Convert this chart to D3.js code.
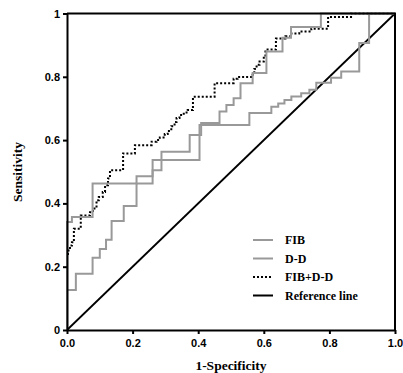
<!DOCTYPE html>
<html>
<head>
<meta charset="utf-8">
<script src="https://cdn.jsdelivr.net/npm/d3@7"></script>
<style>
  body { margin: 0; background: #fff; }
  svg { display: block; font-family: 'Liberation Serif', 'Times New Roman', serif; font-weight: bold; }
  .axis path, .axis line { stroke: #000; stroke-width: 2; }
  .axis text { font-size: 11px; font-weight: bold; fill: #000; }
</style>
</head>
<body>
<svg></svg>
<script>
const SVG_MEASURES = {
  width: 403,
  height: 373,
  left: 67,
  right: 395,
  top: 13.5,
  bottom: 330
}

// ROC points: start of each horizontal run (fpr, tpr)
const FIB_FPR = [0, 0, 0.015, 0.078, 0.212, 0.261, 0.404, 0.556, 0.623, 0.644, 0.663, 0.684, 0.714, 0.739, 0.760, 0.805, 0.836, 0.891, 0.921, 1]
const FIB_TPR = [0, 0.341, 0.357, 0.463, 0.486, 0.537, 0.648, 0.686, 0.705, 0.716, 0.727, 0.738, 0.748, 0.759, 0.781, 0.797, 0.817, 0.907, 1, 1]

const DD_FPR = [0, 0, 0.027, 0.078, 0.100, 0.119, 0.136, 0.173, 0.212, 0.261, 0.288, 0.374, 0.409, 0.465, 0.486, 0.508, 0.529, 0.566, 0.608, 0.657, 0.683, 0.774, 1]
const DD_TPR = [0, 0.126, 0.178, 0.228, 0.256, 0.285, 0.344, 0.392, 0.463, 0.505, 0.563, 0.616, 0.654, 0.690, 0.711, 0.732, 0.780, 0.812, 0.880, 0.923, 0.957, 1, 1]

const COMB_FPR = [0, 0, 0.003, 0.009, 0.015, 0.021, 0.042, 0.070, 0.079, 0.090, 0.097, 0.109, 0.116, 0.125, 0.131, 0.171, 0.207, 0.258, 0.273, 0.283,
  0.298, 0.307, 0.318, 0.328, 0.334, 0.343, 0.356, 0.368, 0.384, 0.450, 0.508, 0.520, 0.566, 0.571, 0.578, 0.587, 0.600, 0.605, 0.637, 0.666,
  0.684, 0.708, 0.745, 0.796, 0.866, 1]
const COMB_TPR = [0, 0.232, 0.251, 0.267, 0.277, 0.320, 0.362, 0.372, 0.384, 0.410, 0.420, 0.436, 0.457, 0.479, 0.505, 0.558, 0.584, 0.595, 0.600, 0.608,
  0.619, 0.629, 0.644, 0.657, 0.670, 0.679, 0.687, 0.695, 0.737, 0.780, 0.794, 0.799, 0.813, 0.825, 0.838, 0.848, 0.864, 0.886, 0.921, 0.928,
  0.937, 0.943, 0.952, 0.989, 1, 1]

const REF_FPR = [0, 1]
const REF_TPR = [0, 1]

const X_TICKS = [0, 0.2, 0.4, 0.6, 0.8, 1.0]
const Y_TICKS = [0, 0.2, 0.4, 0.6, 0.8, 1]
const LEGEND_LABELS = ['FIB', 'D-D', 'FIB+D-D', 'Reference line']

const SERIES = [
  { name: 'FIB', fpr: FIB_FPR, tpr: FIB_TPR, color: '#999999', dash: null, step: true },
  { name: 'D-D', fpr: DD_FPR, tpr: DD_TPR, color: '#999999', dash: null, step: true },
  { name: 'FIB+D-D', fpr: COMB_FPR, tpr: COMB_TPR, color: '#000000', dash: '2,2', step: true },
  { name: 'Reference line', fpr: REF_FPR, tpr: REF_TPR, color: '#000000', dash: null, step: false }
]

const canvas = d3.select('svg')
  .attr('width', SVG_MEASURES.width)
  .attr('height', SVG_MEASURES.height)

const xScale = d3.scaleLinear().domain([0, 1]).range([SVG_MEASURES.left, SVG_MEASURES.right])
const yScale = d3.scaleLinear().domain([0, 1]).range([SVG_MEASURES.bottom, SVG_MEASURES.top])

function toPoints(s) {
  return s.fpr.map((f, i) => [f, s.tpr[i]])
}

// curves, reference first so it sits underneath
const curves = canvas.append('g').attr('id', 'curves')
SERIES.slice().reverse().forEach(s => {
  const line = d3.line()
    .x(d => xScale(d[0]))
    .y(d => yScale(d[1]))
    .curve(s.step ? d3.curveStepAfter : d3.curveLinear)

  curves.append('path')
    .datum(toPoints(s))
    .attr('d', line)
    .attr('fill', 'none')
    .attr('stroke', s.color)
    .attr('stroke-width', s.dash ? 2 : (s.step ? 2 : 1.8))
    .attr('stroke-dasharray', s.dash)
})

// frame: top and right edges
canvas.append('path')
  .attr('d', d3.line()([[xScale(0), yScale(1)], [xScale(1), yScale(1)], [xScale(1), yScale(0)]]))
  .attr('fill', 'none')
  .attr('stroke', '#000')
  .attr('stroke-width', 2)

const xAxis = d3.axisBottom(xScale)
  .tickValues(X_TICKS)
  .tickFormat(d3.format('.1f'))
  .tickSize(4)
  .tickSizeOuter(0)
  .tickPadding(5)

canvas.append('g')
  .attr('class', 'axis')
  .attr('transform', `translate(0, ${SVG_MEASURES.bottom})`)
  .call(xAxis)

const yAxis = d3.axisLeft(yScale)
  .tickValues(Y_TICKS)
  .tickFormat(d => d3.format('~g')(d))
  .tickSize(4)
  .tickSizeOuter(0)
  .tickPadding(3)

canvas.append('g')
  .attr('class', 'axis')
  .attr('transform', `translate(${SVG_MEASURES.left}, 0)`)
  .call(yAxis)

// axis titles
canvas.append('text')
  .text('1-Specificity')
  .attr('x', 231)
  .attr('y', 370)
  .attr('text-anchor', 'middle')
  .style('font-size', '13.5px')

canvas.append('text')
  .text('Sensitivity')
  .attr('transform', 'rotate(-90)')
  .attr('x', -172)
  .attr('y', 22)
  .attr('text-anchor', 'middle')
  .style('font-size', '13.5px')

// legend
const legend = canvas.append('g')
  .attr('id', 'legend')
  .attr('transform', 'translate(253, 240)')

const rows = legend.selectAll('g')
  .data(SERIES)
  .enter()
  .append('g')
  .attr('transform', (d, i) => `translate(0, ${i * 18.5})`)

rows.append('line')
  .attr('x1', 0)
  .attr('x2', 20)
  .attr('stroke', d => d.color)
  .attr('stroke-width', 2)
  .attr('stroke-dasharray', d => d.dash)

rows.append('text')
  .text((d, i) => LEGEND_LABELS[i])
  .attr('x', 32)
  .attr('dy', '0.35em')
  .style('font-size', '12px')
</script>
</body>
</html>
